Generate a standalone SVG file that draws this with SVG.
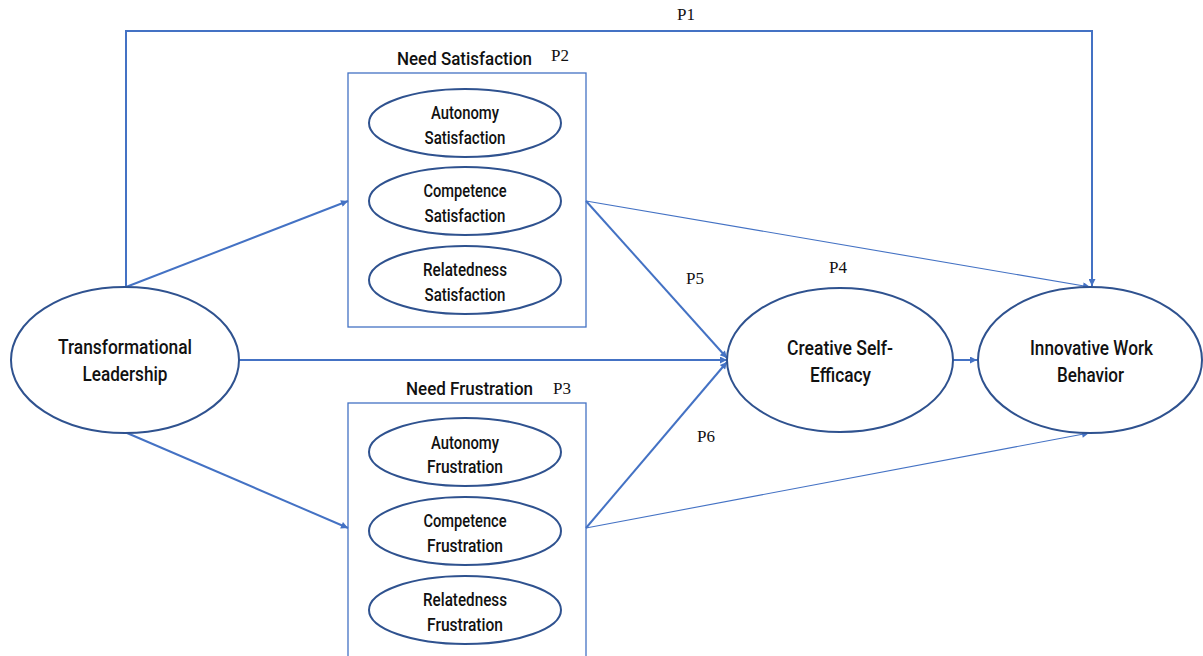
<svg xmlns="http://www.w3.org/2000/svg" width="1203" height="656" viewBox="0 0 1203 656">
<style>
.bg{fill:#ffffff}
.ell{fill:#ffffff;stroke:#2F528F;stroke-width:2}
.box{fill:none;stroke:#4472C4;stroke-width:1.3}
.lbl{font-family:Roboto,"DejaVu Sans",sans-serif;font-weight:500;fill:#111111;text-anchor:middle}
.big{font-size:21px}
.sm{font-size:18px}
.ttl{font-size:19px}
.p{font-family:"Liberation Serif","Times New Roman",serif;font-size:17px;fill:#111111}
.c{fill:none;stroke:#4472C4;stroke-width:2}
.t{fill:none;stroke:#4472C4;stroke-width:1.1}
</style>
<defs>
<marker id="ah" viewBox="0 0 10 10" refX="10" refY="5" markerWidth="9" markerHeight="7" markerUnits="userSpaceOnUse" orient="auto">
<path d="M0,0 L10,5 L0,10 z" fill="#4472C4"/>
</marker>
</defs>
<rect class="bg" x="0" y="0" width="1203" height="656"/>

<g id="connectors">
<path id="p1" class="c" d="M126,287 V31 H1092 V286" marker-end="url(#ah)"/>
<line class="c" x1="126" y1="287" x2="348" y2="201" marker-end="url(#ah)"/>
<line class="c" x1="127" y1="433" x2="348" y2="528" marker-end="url(#ah)"/>
<line class="c" x1="239" y1="360" x2="727" y2="360" marker-end="url(#ah)"/>
<line class="c" x1="586" y1="201" x2="727" y2="358" marker-end="url(#ah)"/>
<line class="c" x1="586" y1="528" x2="727" y2="362" marker-end="url(#ah)"/>
<line class="t" x1="586" y1="201" x2="1090" y2="287" marker-end="url(#ah)"/>
<line class="t" x1="586" y1="528" x2="1089" y2="433" marker-end="url(#ah)"/>
<line class="c" x1="953" y1="360" x2="977" y2="360" marker-end="url(#ah)"/>
</g>

<g id="labels">
<text class="p" x="677" y="20">P1</text>
<text class="p" x="551" y="61">P2</text>
<text class="p" x="553" y="394">P3</text>
<text class="p" x="829" y="273">P4</text>
<text class="p" x="686" y="284">P5</text>
<text class="p" x="697" y="442">P6</text>
</g>

<g id="transformational-leadership">
<ellipse class="ell" cx="125" cy="360" rx="114" ry="73"/>
<text class="lbl big" x="125" y="354" textLength="134" lengthAdjust="spacingAndGlyphs">Transformational</text>
<text class="lbl big" x="125" y="381" textLength="85" lengthAdjust="spacingAndGlyphs">Leadership</text>
</g>

<g id="need-satisfaction">
<text class="lbl ttl" x="464.5" y="65" textLength="135" lengthAdjust="spacingAndGlyphs">Need Satisfaction</text>
<rect class="box" x="348" y="73" width="238" height="254"/>
<g id="autonomy-satisfaction">
<ellipse class="ell" cx="465" cy="123" rx="96" ry="34"/>
<text class="lbl sm" x="465" y="119" textLength="68" lengthAdjust="spacingAndGlyphs">Autonomy</text>
<text class="lbl sm" x="465" y="144" textLength="81" lengthAdjust="spacingAndGlyphs">Satisfaction</text>
</g>
<g id="competence-satisfaction">
<ellipse class="ell" cx="465" cy="201" rx="96" ry="34"/>
<text class="lbl sm" x="465" y="197" textLength="83" lengthAdjust="spacingAndGlyphs">Competence</text>
<text class="lbl sm" x="465" y="222" textLength="81" lengthAdjust="spacingAndGlyphs">Satisfaction</text>
</g>
<g id="relatedness-satisfaction">
<ellipse class="ell" cx="465" cy="280" rx="96" ry="34"/>
<text class="lbl sm" x="465" y="276" textLength="84" lengthAdjust="spacingAndGlyphs">Relatedness</text>
<text class="lbl sm" x="465" y="301" textLength="81" lengthAdjust="spacingAndGlyphs">Satisfaction</text>
</g>
</g>

<g id="need-frustration">
<text class="lbl ttl" x="469.5" y="395" textLength="127" lengthAdjust="spacingAndGlyphs">Need Frustration</text>
<rect class="box" x="348" y="403" width="238" height="258"/>
<g id="autonomy-frustration">
<ellipse class="ell" cx="465" cy="452" rx="96" ry="34"/>
<text class="lbl sm" x="465" y="449" textLength="68" lengthAdjust="spacingAndGlyphs">Autonomy</text>
<text class="lbl sm" x="465" y="473" textLength="76" lengthAdjust="spacingAndGlyphs">Frustration</text>
</g>
<g id="competence-frustration">
<ellipse class="ell" cx="465" cy="531" rx="96" ry="34"/>
<text class="lbl sm" x="465" y="527" textLength="83" lengthAdjust="spacingAndGlyphs">Competence</text>
<text class="lbl sm" x="465" y="552" textLength="76" lengthAdjust="spacingAndGlyphs">Frustration</text>
</g>
<g id="relatedness-frustration">
<ellipse class="ell" cx="465" cy="610" rx="96" ry="34"/>
<text class="lbl sm" x="465" y="606" textLength="84" lengthAdjust="spacingAndGlyphs">Relatedness</text>
<text class="lbl sm" x="465" y="631" textLength="76" lengthAdjust="spacingAndGlyphs">Frustration</text>
</g>
</g>

<g id="creative-self-efficacy">
<ellipse class="ell" cx="840" cy="360" rx="113" ry="72"/>
<text class="lbl big" x="840" y="355" textLength="106" lengthAdjust="spacingAndGlyphs">Creative Self-</text>
<text class="lbl big" x="840.5" y="382" textLength="61" lengthAdjust="spacingAndGlyphs">Efficacy</text>
</g>

<g id="innovative-work-behavior">
<ellipse class="ell" cx="1090" cy="360" rx="112" ry="73"/>
<text class="lbl big" x="1091.5" y="355" textLength="123" lengthAdjust="spacingAndGlyphs">Innovative Work</text>
<text class="lbl big" x="1090.5" y="382" textLength="67" lengthAdjust="spacingAndGlyphs">Behavior</text>
</g>
</svg>
